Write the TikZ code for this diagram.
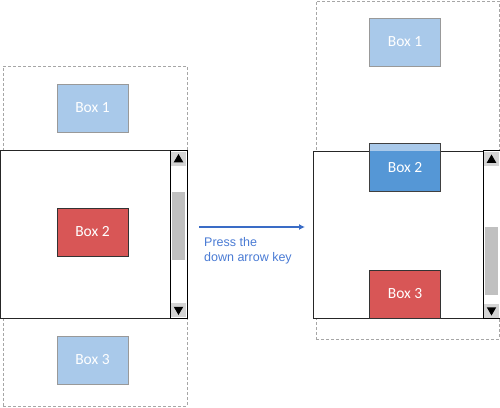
\documentclass[tikz,border=0pt]{standalone}
\usepackage{fontspec}
\setmainfont{Liberation Sans}
\newfontfamily\boxfont{Carlito}
\usetikzlibrary{positioning, shapes.geometric, arrows.meta}

\definecolor{lightbox}{HTML}{A9C9EA}
\definecolor{redbox}{HTML}{D85656}
\definecolor{bluebox}{HTML}{5597D6}
\definecolor{arrowblue}{HTML}{3A6CC6}
\definecolor{noteblue}{HTML}{4A7BD4}
\definecolor{thumbgray}{HTML}{C0C0C0}
\definecolor{buttongray}{HTML}{D4D4D4}

\tikzset{
	frame/.style = {draw = black!35, line width = 1pt, dash pattern = on 3pt off 2pt},
	view/.style = {draw = black!85, line width = 1pt, fill = white},
	item/.style = {minimum width = 71, minimum height = 48, inner sep = 0pt, line width = 1pt,
		text = white, font = \boxfont\fontsize{15.5}{18}\selectfont},
	light/.style = {item, fill = lightbox, draw = black!40},
	hot/.style = {item, fill = redbox, draw = black!80},
	picked/.style = {item, fill = bluebox, draw = black!75},
	bar/.style = {draw = black, line width = 1pt, fill = white, minimum width = 17, minimum height = 168},
	thumb/.style = {fill = thumbgray, minimum width = 13, minimum height = 68, inner sep = 0pt},
	button/.style = {fill = buttongray, minimum width = 15, minimum height = 14, inner sep = 0pt},
	tri/.style = {regular polygon, regular polygon sides = 3, fill = black, minimum size = 11, inner sep = 0pt},
	go/.style = {draw = arrowblue, line width = 1.5pt, -{Latex[length = 6pt, width = 6pt]}},
	note/.style = {text = noteblue, align = left, inner sep = 0pt, font = \fontsize{12.5}{15.5}\selectfont}
}

\begin{document}
\begin{tikzpicture}[x = 1pt, y = -1pt]
	\useasboundingbox (0,0) rectangle (500,407);

	% before
	\node[frame, minimum width = 184, minimum height = 340] (FL) at (95,236) {};
	\node[view, minimum width = 186, minimum height = 168] (VL) at (93.5,234) {};
	\node[light] (L1) at (92.5,108) {Box 1};
	\node[hot] (L2) at (92.5,232) {Box 2};
	\node[light] (L3) at (92.5,360) {Box 3};
	\node[bar] (SL) at (178.5,234) {};
	\node[thumb] (TL) at (178.5,226) {};
	\node[button] (UL) at (178.5,158.5) {};
	\node[button] (DL) at (178.5,310) {};
	\node[tri] (UTL) at (178.5,159.5) {};
	\node[tri, shape border rotate = 180] (DTL) at (178.5,309.5) {};

	% key press
	\coordinate (A) at (199,227);
	\coordinate (B) at (305,227);
	\draw[go] (A) -- (B);
	\node[note, anchor = north west] (N) at (204,237) {Press the\\down arrow key};

	% after
	\node[frame, minimum width = 183, minimum height = 338] (FR) at (407.5,170) {};
	\node[view, minimum width = 186, minimum height = 167] (VR) at (406,234.5) {};
	\node[light] (R1) at (405,42) {Box 1};
	\node[picked, path picture = {\fill[lightbox] (path picture bounding box.north west)
		rectangle (path picture bounding box.east |- VR.north);}] (R2) at (405,167.5) {Box 2};
	\node[hot] (R3) at (405,294) {Box 3};
	\node[bar] (SR) at (491.5,234.5) {};
	\node[thumb] (TR) at (491.5,261) {};
	\node[button] (UR) at (491.5,159) {};
	\node[button] (DR) at (491.5,310.5) {};
	\node[tri] (UTR) at (491.5,160) {};
	\node[tri, shape border rotate = 180] (DTR) at (491.5,310) {};
\end{tikzpicture}
\end{document}
